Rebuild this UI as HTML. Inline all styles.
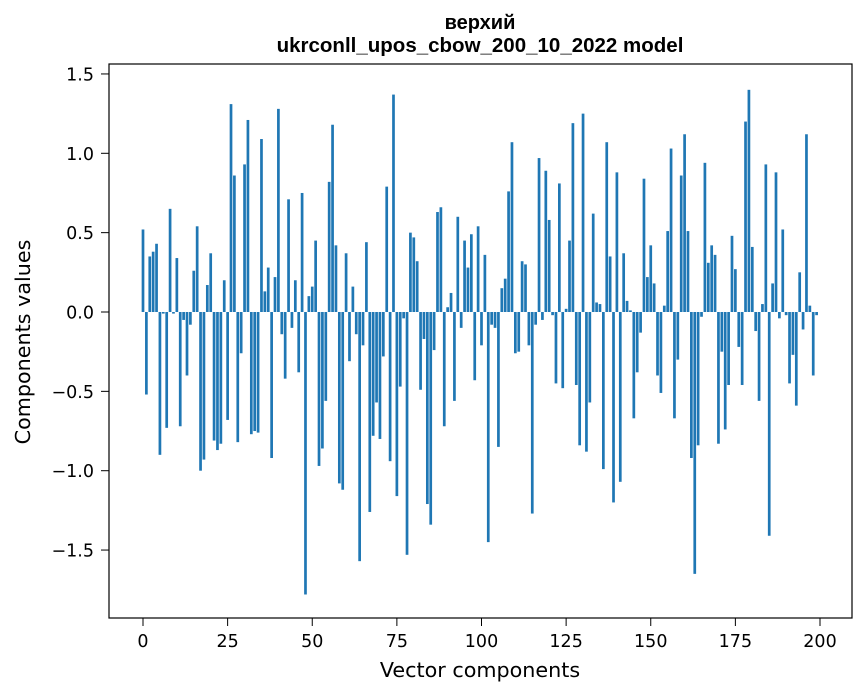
<!DOCTYPE html>
<html><head><meta charset="utf-8"><style>
body{margin:0;background:#fff;}
svg{display:block;font-family:"DejaVu Sans","Liberation Sans",sans-serif;}
.t{font-family:"Liberation Sans","DejaVu Sans",sans-serif;}
</style></head><body>
<svg id="chart" width="867" height="696">
<rect x="0" y="0" width="867" height="696" fill="#fff"/>
<text class="t" x="480" y="29" text-anchor="middle" font-size="20" font-weight="bold">верхий</text>
<text class="t" x="480" y="52" text-anchor="middle" font-size="20.5" font-weight="bold">ukrconll_upos_cbow_200_10_2022 model</text>
<g id="bars"></g>
<g id="xticks"></g>
<g id="yticks"></g>
<rect x="109" y="64" width="743" height="554" fill="none" stroke="#000" stroke-width="1.2"/>
<text x="480" y="677" text-anchor="middle" font-size="20.7">Vector components</text>
<text transform="translate(30,342) rotate(-90)" text-anchor="middle" font-size="20.7">Components values</text>
</svg>
<script>
const values=[0.52,-0.52,0.35,0.38,0.43,-0.90,-0.01,-0.73,0.65,-0.01,
0.34,-0.72,-0.05,-0.40,-0.08,0.26,0.54,-1.00,-0.93,0.17,
0.37,-0.81,-0.87,-0.83,0.20,-0.68,1.31,0.86,-0.82,-0.26,
0.93,1.21,-0.77,-0.75,-0.76,1.09,0.13,0.28,-0.92,0.22,
1.28,-0.14,-0.42,0.71,-0.10,0.20,-0.38,0.75,-1.78,0.10,
0.16,0.45,-0.97,-0.86,-0.56,0.82,1.18,0.42,-1.08,-1.12,
0.37,-0.31,0.16,-0.14,-1.57,-0.21,0.44,-1.26,-0.78,-0.57,
-0.80,-0.28,0.79,-0.94,1.37,-1.16,-0.47,-0.04,-1.53,0.50,
0.47,0.32,-0.49,-0.17,-1.21,-1.34,-0.24,0.63,0.66,-0.72,
0.03,0.12,-0.56,0.60,-0.10,0.45,0.28,0.49,-0.43,0.54,
-0.21,0.36,-1.45,-0.08,-0.10,-0.85,0.15,0.21,0.76,1.07,
-0.26,-0.25,0.32,0.30,-0.21,-1.27,-0.08,0.97,-0.05,0.89,
0.58,-0.02,-0.45,0.81,-0.48,0.02,0.45,1.19,-0.46,-0.84,
1.25,-0.88,-0.57,0.62,0.06,0.05,-0.99,1.07,0.35,-1.20,
0.88,-1.07,0.37,0.07,0.01,-0.67,-0.38,-0.13,0.84,0.22,
0.42,0.18,-0.40,-0.51,0.04,0.51,1.03,-0.67,-0.30,0.86,
1.12,0.51,-0.92,-1.65,-0.84,-0.03,0.94,0.31,0.42,0.36,
-0.83,-0.25,-0.74,-0.46,0.48,0.27,-0.22,-0.46,1.20,1.40,
0.41,-0.12,-0.56,0.05,0.93,-1.41,0.18,0.88,-0.04,0.52,
-0.02,-0.45,-0.27,-0.59,0.25,-0.11,1.12,0.04,-0.40,-0.02];
const xTickValues=[0,25,50,75,100,125,150,175,200];
const yTickValues=[-1.5,-1.0,-0.5,0.0,0.5,1.0,1.5];
const yTickLabels=["\u22121.5","\u22121.0","\u22120.5","0.0","0.5","1.0","1.5"];

const NS="http://www.w3.org/2000/svg";
function xs(v){return 143+v*3.385;}
function ys(v){return 312-v*158.7;}
const bars=document.getElementById('bars');
values.forEach((v,i)=>{
  const r=document.createElementNS(NS,'rect');
  const y0=ys(Math.max(v,0)), y1=ys(Math.min(v,0));
  r.setAttribute('x',xs(i-0.4));
  r.setAttribute('y',y0);
  r.setAttribute('width',0.8*3.385);
  r.setAttribute('height',Math.max(y1-y0,0.3));
  r.setAttribute('fill','#1f77b4');
  
  
  bars.appendChild(r);
});
const xt=document.getElementById('xticks');
xTickValues.forEach(v=>{
  const l=document.createElementNS(NS,'line');
  l.setAttribute('x1',xs(v));l.setAttribute('x2',xs(v));
  l.setAttribute('y1',618);l.setAttribute('y2',626);
  l.setAttribute('stroke','#000');
  
  
  xt.appendChild(l);
  const t=document.createElementNS(NS,'text');
  t.setAttribute('x',xs(v));t.setAttribute('y',647);
  t.setAttribute('text-anchor','middle');t.setAttribute('font-size','17.5');
  
  
  t.textContent=v;
  xt.appendChild(t);
});
const yt=document.getElementById('yticks');
yTickValues.forEach((v,i)=>{
  const l=document.createElementNS(NS,'line');
  l.setAttribute('x1',101);l.setAttribute('x2',109);
  l.setAttribute('y1',ys(v));l.setAttribute('y2',ys(v));
  l.setAttribute('stroke','#000');
  
  
  yt.appendChild(l);
  const t=document.createElementNS(NS,'text');
  t.setAttribute('x',94);t.setAttribute('y',ys(v)+6.5);
  t.setAttribute('text-anchor','end');t.setAttribute('font-size','17.5');
  
  
  t.textContent=yTickLabels[i];
  yt.appendChild(t);
});
</script>
</body></html>
